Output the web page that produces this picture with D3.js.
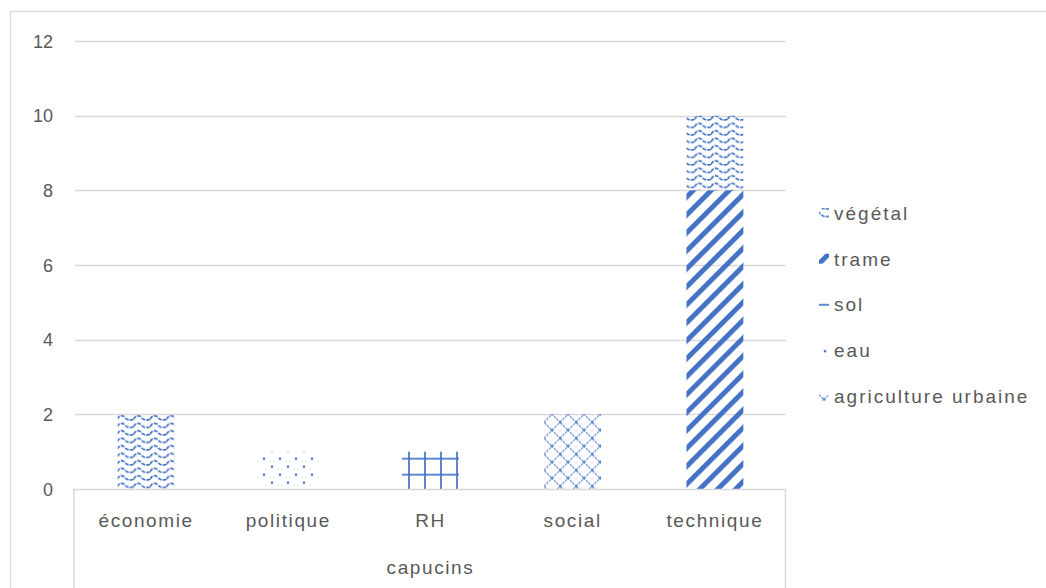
<!DOCTYPE html>
<html><head><meta charset="utf-8">
<script src="https://cdn.jsdelivr.net/npm/d3@7"></script>
<style>html,body{margin:0;padding:0;background:#fff;}svg{display:block;}</style>
</head><body>
<svg id="chart" width="1046" height="588"></svg>
<script>
const categories = ["économie", "politique", "RH", "social", "technique"];
const groupLabel = "capucins";
const seriesNames = ["agriculture urbaine", "eau", "sol", "trame", "végétal"];
const agricultureUrbaine = [0, 0, 0, 2, 0];
const eau = [0, 1, 0, 0, 0];
const sol = [0, 0, 1, 0, 0];
const trame = [0, 0, 0, 0, 8];
const vegetal = [2, 0, 0, 0, 2];
const yTicks = [0, 2, 4, 6, 8, 10, 12];
const legendOrder = ["végétal", "trame", "sol", "eau", "agriculture urbaine"];

const seriesValues = {"agriculture urbaine": agricultureUrbaine, "eau": eau, "sol": sol, "trame": trame, "végétal": vegetal};
const table = categories.map((c, i) => {
  const row = {cat: c};
  seriesNames.forEach(s => row[s] = seriesValues[s][i]);
  return row;
});

const svg = d3.select("#chart");
const blue = "#4472C4";
const textCol = "#595959";
const gridCol = "#d9d9d9";
const font = "Liberation Sans, Arial, sans-serif";

const x = d3.scaleBand().domain(categories).range([75, 786]).paddingInner(0.6).paddingOuter(0.3);
const y = d3.scaleLinear().domain([0, 12]).range([489, 41]);

const defs = svg.append("defs");
const patId = {"agriculture urbaine": "Agri", "eau": "Eau", "sol": "Sol", "trame": "Trame", "végétal": "Veg"};

function makePattern(id, key, px, py) {
  let p;
  if (key === "végétal") {
    p = defs.append("pattern").attr("id", id).attr("patternUnits", "userSpaceOnUse")
      .attr("width", 16.5).attr("height", 7.5).attr("x", px).attr("y", py);
    p.append("path").attr("d", "M0,5 C2.5,0.5 5.7,0.5 8.25,3.5 C10.5,6 13.5,6 16.5,5").attr("fill", "none")
      .attr("stroke", blue).attr("stroke-width", 1.7).attr("stroke-dasharray", "4,1.2");
  } else if (key === "trame") {
    p = defs.append("pattern").attr("id", id).attr("patternUnits", "userSpaceOnUse")
      .attr("width", 12.7).attr("height", 12.7).attr("x", px).attr("y", py).attr("patternTransform", "rotate(45)");
    p.append("rect").attr("x", 0).attr("y", 0).attr("width", 5).attr("height", 12.7).attr("fill", blue);
  } else if (key === "sol") {
    p = defs.append("pattern").attr("id", id).attr("patternUnits", "userSpaceOnUse")
      .attr("width", 16).attr("height", 16).attr("x", px).attr("y", py);
    [[-1,0,2,16],[15,0,2,16],[0,-1,16,2],[0,15,16,2]].forEach(r =>
      p.append("rect").attr("x", r[0]).attr("y", r[1]).attr("width", r[2]).attr("height", r[3]).attr("fill", blue).attr("opacity", 0.85));
  } else if (key === "eau") {
    p = defs.append("pattern").attr("id", id).attr("patternUnits", "userSpaceOnUse")
      .attr("width", 16).attr("height", 16).attr("x", px).attr("y", py);
    [[0,0],[16,0],[0,16],[16,16],[8,8]].forEach(d => p.append("circle").attr("cx", d[0]).attr("cy", d[1]).attr("r", 1.3).attr("fill", blue));
  } else {
    p = defs.append("pattern").attr("id", id).attr("patternUnits", "userSpaceOnUse")
      .attr("width", 16).attr("height", 16).attr("x", px).attr("y", py);
    p.append("path").attr("d", "M0,8 L8,0 L16,8 L8,16 Z M-8,8 L0,0 M16,0 L24,8 M0,16 L-8,8 M16,16 L24,8")
      .attr("fill", "none").attr("stroke", blue).attr("stroke-width", 1.2).attr("opacity", 0.8)
      .attr("stroke-dasharray", "2.5,1");
    [[0,8],[8,0],[16,8],[8,16]].forEach(d => p.append("circle").attr("cx", d[0]).attr("cy", d[1]).attr("r", 1.4).attr("fill", blue).attr("opacity", 0.75));
  }
}
// bar patterns, phase aligned to the plot
makePattern("pVeg", "végétal", 117, y(2));
makePattern("pTrame", "trame", 0, 0);
makePattern("pSol", "sol", 409, y(1) + 7);
makePattern("pEau", "eau", 264, y(1) + 7);
makePattern("pAgri", "agriculture urbaine", 544, y(2));

// outer chart border
svg.append("rect").attr("x", 10.5).attr("y", 11.5).attr("width", 1100).attr("height", 700)
  .attr("fill", "none").attr("stroke", gridCol).attr("stroke-width", 1.3);

// gridlines
svg.append("g").selectAll("line").data(yTicks.filter(t => t > 0)).join("line")
  .attr("x1", 75).attr("x2", 786).attr("y1", d => Math.round(y(d)) + 0.5).attr("y2", d => Math.round(y(d)) + 0.5)
  .attr("stroke", gridCol).attr("stroke-width", 1.3);

// y axis labels
const yAxis = d3.axisLeft(y).tickValues(yTicks).tickSize(0).tickPadding(0);
const ya = svg.append("g").attr("transform", "translate(53,0)").call(yAxis);
ya.select(".domain").remove();
ya.selectAll("text").attr("fill", textCol).style("font-family", font).style("font-size", "18px").attr("dy", "0.35em");

// bars
const stacked = d3.stack().keys(seriesNames)(table);
svg.append("g").selectAll("g").data(stacked).join("g")
  .attr("fill", d => `url(#p${patId[d.key]})`)
  .selectAll("rect").data(d => d.filter(v => v[1] - v[0] > 0)).join("rect")
  .attr("x", d => x(d.data.cat)).attr("width", x.bandwidth())
  .attr("y", d => y(d[1])).attr("height", d => y(d[0]) - y(d[1]));

// category axis box
svg.append("line").attr("x1", 73).attr("x2", 786).attr("y1", 489.5).attr("y2", 489.5).attr("stroke", gridCol).attr("stroke-width", 1.5);
svg.append("line").attr("x1", 74).attr("x2", 74).attr("y1", 489).attr("y2", 588).attr("stroke", gridCol).attr("stroke-width", 1.5);
svg.append("line").attr("x1", 785.5).attr("x2", 785.5).attr("y1", 489).attr("y2", 588).attr("stroke", gridCol).attr("stroke-width", 1.5);

const xAxis = d3.axisBottom(x).tickSize(0).tickPadding(0);
const xa = svg.append("g").attr("transform", "translate(0,513)").call(xAxis);
xa.select(".domain").remove();
xa.selectAll("text").attr("fill", textCol).style("font-family", font).style("font-size", "19px").style("letter-spacing", "1.6px");

svg.append("text").attr("x", (75 + 786) / 2).attr("y", 574).attr("text-anchor", "middle")
  .attr("fill", textCol).style("font-family", font).style("font-size", "19px").style("letter-spacing", "1.6px").text(groupLabel);

// legend
const legX = 819, legY0 = 213, legStep = 45.7;
legendOrder.forEach((k, i) => {
  const cy = legY0 + i * legStep;
  let px = legX, py = cy - 5;
  if (k === "sol") { px = legX + 12; py = cy; }
  if (k === "eau") { px = legX - 5; py = cy - 5; }
  if (k === "agriculture urbaine") { px = legX - 6; py = cy - 8; }
  if (k === "trame") { px = (legX + 5 + cy) / Math.SQRT2 - 2.5; py = 0; }
  makePattern("l" + patId[k], k, px, py);
});
const lg = svg.append("g").selectAll("g").data(legendOrder).join("g")
  .attr("transform", (d, i) => `translate(${legX},${legY0 + i * legStep})`);
lg.append("rect").attr("x", 0).attr("y", -5).attr("width", 10).attr("height", 10)
  .attr("fill", d => `url(#l${patId[d]})`);
lg.append("text").attr("x", 15).attr("y", 7).attr("fill", textCol)
  .style("font-family", font).style("font-size", "19px").style("letter-spacing", "2px").text(d => d);
</script>
</body></html>
